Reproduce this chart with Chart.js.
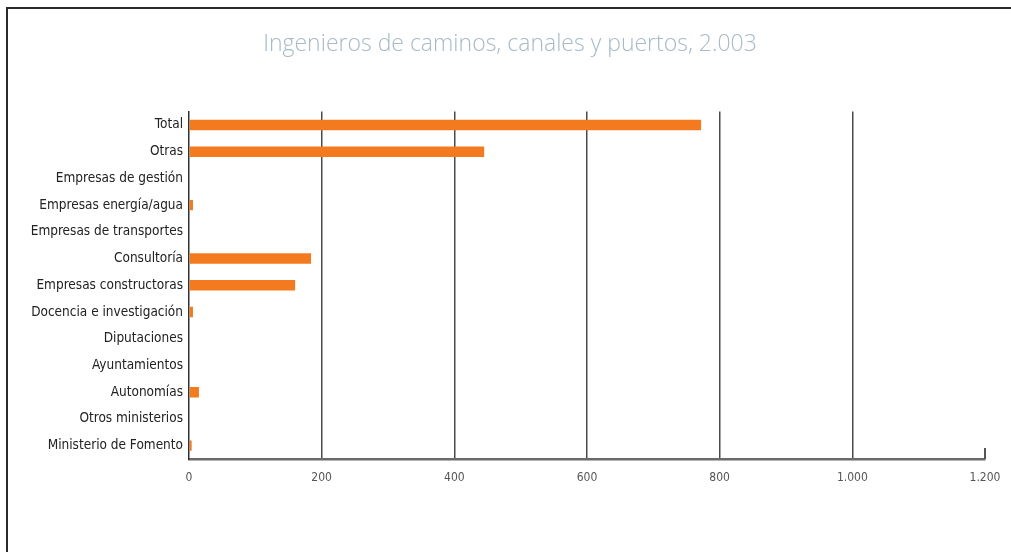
<!DOCTYPE html>
<html>
<head>
<meta charset="utf-8">
<script src="https://cdn.jsdelivr.net/npm/chart.js"></script>
<style>
    html, body { margin: 0; padding: 0; background: #fff; }
    #wrap { position: relative; width: 1011px; height: 552px; }
    #frame {
        position: absolute; left: 6px; top: 7px; right: 0; bottom: 0;
        border-top: 2px solid #2a2a2a; border-left: 2px solid #2a2a2a;
        pointer-events: none;
    }
</style>
</head>
<body>
<div id="wrap">
    <canvas id="bar" width="1011" height="552"></canvas>
    <div id="frame"></div>
</div>
<script>
const categorias = [
    'Total', 'Otras', 'Empresas de gestión', 'Empresas energía/agua',
    'Empresas de transportes', 'Consultoría', 'Empresas constructoras',
    'Docencia e investigación', 'Diputaciones', 'Ayuntamientos',
    'Autonomías', 'Otros ministerios', 'Ministerio de Fomento'
];
const ingenieros = [772, 445, 0, 6, 0, 184, 160, 6, 0, 0, 15, 0, 4];
const marcas = [0, 200, 400, 600, 800, 1000, 1200];

// miles con punto: 1000 -> 1.000
const formato = v => String(v).replace(/\B(?=(\d{3})+(?!\d))/g, '.');

// pequeña marca vertical al final del eje (1.200)
const marcaFinal = {
    id: 'marcaFinal',
    afterDraw(chart) {
        const x = chart.scales.x;
        const px = x.getPixelForValue(marcas[marcas.length - 1]);
        const c = chart.ctx;
        c.save();
        c.strokeStyle = '#555';
        c.lineWidth = 2;
        c.beginPath();
        c.moveTo(px, x.top);
        c.lineTo(px, x.top - 11);
        c.stroke();
        c.restore();
    }
};

const ctx = document.getElementById('bar').getContext('2d');
const myChart = new Chart(ctx, {
    type: 'bar',
    data: {
        labels: categorias,
        datasets: [{
            label: 'Ingenieros',
            data: ingenieros,
            backgroundColor: '#f47a1f',
            barPercentage: 0.39,
            categoryPercentage: 1
        }]
    },
    options: {
        indexAxis: 'y',
        responsive: false,
        animation: false,
        layout: {
            padding: { left: 9, right: 0, top: 0, bottom: 0 }
        },
        plugins: {
            legend: { display: false },
            tooltip: { enabled: false },
            title: {
                display: true,
                text: 'Ingenieros de caminos, canales y puertos, 2.003',
                color: '#a7bac6',
                font: { family: 'Open Sans', size: 23, weight: 300 },
                padding: { top: 31, bottom: 53 }
            }
        },
        scales: {
            x: {
                min: 0,
                max: 1200,
                afterBuildTicks(scale) {
                    scale.ticks = marcas.map(v => ({ value: v }));
                },
                afterFit(scale) {
                    scale.height = 93;
                    scale.paddingRight = 26;
                },
                ticks: {
                    callback: v => formato(v),
                    color: '#555',
                    font: { family: 'DejaVu Sans Condensed', size: 12 },
                    padding: 12
                },
                grid: {
                    drawTicks: false,
                    color: ctx => (ctx.tick && (ctx.tick.value === 0 || ctx.tick.value === 1200)) ? 'rgba(0,0,0,0)' : '#4a4a4a',
                    lineWidth: 1.5
                },
                border: { display: true, color: '#6a6a6a', width: 2.5 }
            },
            y: {
                afterFit(scale) { scale.width = 180; },
                ticks: {
                    color: '#222',
                    font: { family: 'DejaVu Sans Condensed', size: 13.5 },
                    padding: 6
                },
                grid: { display: false, drawTicks: false },
                border: { display: true, color: '#333', width: 1.5 }
            }
        }
    },
    plugins: [marcaFinal]
});
</script>
</body>
</html>
